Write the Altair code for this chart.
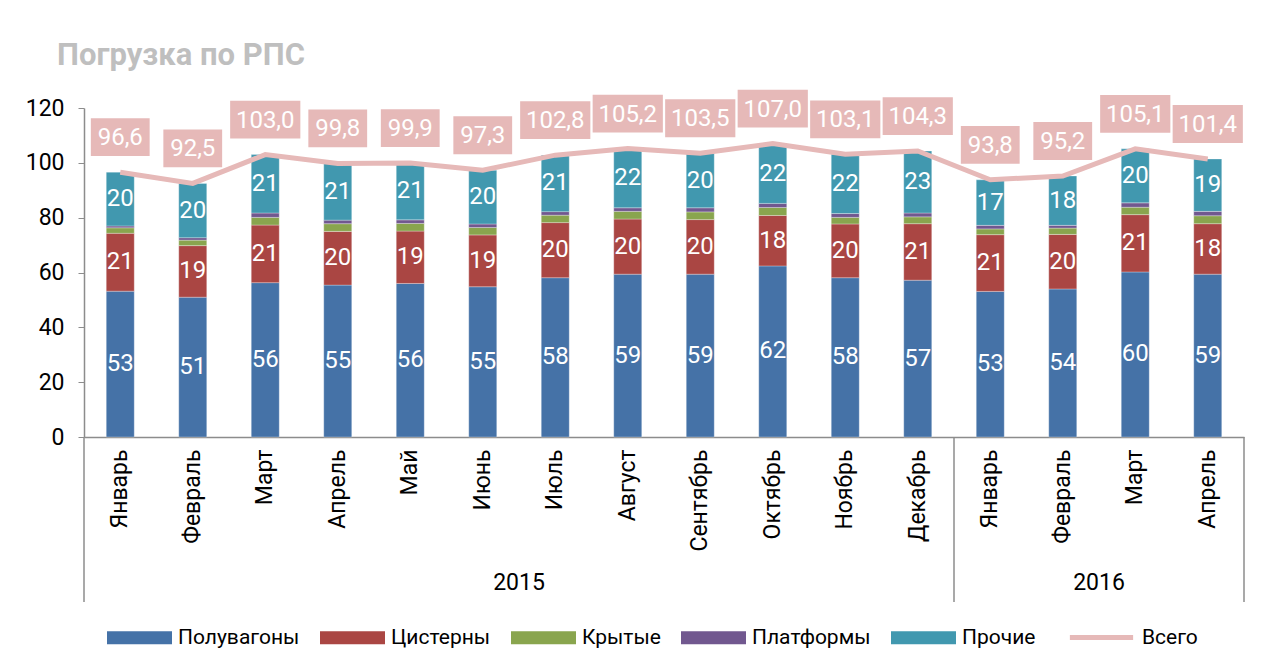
import altair as alt
import pandas as pd

# ---- data -----------------------------------------------------------
years = ["2015"] * 12 + ["2016"] * 4
months = ["Январь", "Февраль", "Март", "Апрель", "Май", "Июнь", "Июль",
          "Август", "Сентябрь", "Октябрь", "Ноябрь", "Декабрь",
          "Январь", "Февраль", "Март", "Апрель"]
poluvagony = [53.2, 51.0, 56.3, 55.4, 56.0, 54.8, 58.1, 59.4, 59.4, 62.4, 58.1, 57.2, 53.1, 54.0, 60.2, 59.4]
cisterny   = [21.1, 18.8, 21.0, 19.6, 19.1, 18.9, 20.1, 20.1, 19.9, 18.4, 19.6, 20.6, 20.7, 19.9, 20.9, 18.4]
krytye     = [2.0, 2.0, 2.8, 2.8, 2.8, 2.7, 2.7, 2.8, 2.8, 2.9, 2.4, 2.5, 2.1, 2.3, 2.7, 2.9]
platformy  = [0.7, 0.9, 1.6, 1.3, 1.3, 1.3, 1.3, 1.3, 1.5, 1.5, 1.4, 1.4, 1.3, 1.0, 1.6, 1.6]
prochie    = [19.6, 19.8, 21.3, 20.7, 20.7, 19.6, 20.6, 21.6, 19.9, 21.8, 21.6, 22.6, 16.6, 18.0, 19.7, 19.1]
vsego      = [96.6, 92.5, 103.0, 99.8, 99.9, 97.3, 102.8, 105.2, 103.5, 107.0, 103.1, 104.3, 93.8, 95.2, 105.1, 101.4]

series_names = ["Полувагоны", "Цистерны", "Крытые", "Платформы", "Прочие"]
series_colors = ["#4572A7", "#AA4643", "#89A54E", "#71588F", "#4198AF"]
total_name = "Всего"
labelled = ["Полувагоны", "Цистерны", "Прочие"]
y_ticks = [0, 20, 40, 60, 80, 100, 120]

# ---- tables -----------------------------------------------------------
keys = [f"{y}|{m}" for y, m in zip(years, months)]
rows = []
for i, k in enumerate(keys):
    for j, (name, arr) in enumerate(zip(series_names,
                                        [poluvagony, cisterny, krytye, platformy, prochie])):
        rows.append({"key": k, "series": name, "value": arr[i], "ord": j})
df = pd.DataFrame(rows)
tot = pd.DataFrame({"key": keys, "total": vsego, "name": [total_name] * len(keys)})
sep_left = pd.DataFrame({"key": [keys[0], keys[12]]})
sep_right = pd.DataFrame({"key": [keys[-1]]})
year_df = pd.DataFrame({"key": [keys[5], keys[13]], "year": ["2015", "2016"]})

FONT = "Roboto"
FS = 23
LFS = 21
W, H = 1160, 329
PINK = "#E6B9B8"
GREY = "#8C8C8C"

xscale = alt.Scale(domain=keys, paddingInner=0, paddingOuter=0)
yscale = alt.Scale(domain=[0, 120], nice=False)

x_axis = alt.Axis(title=None, labelAngle=-90, labelExpr="split(datum.value, '|')[1]",
                  labelFont=FONT, labelFontSize=FS, labelColor="#000000", labelPadding=12,
                  ticks=False, domainColor=GREY, domainWidth=1.5, labelBaseline="middle")
y_axis = alt.Axis(title=None, values=y_ticks, grid=False, labelFont=FONT, labelFontSize=FS,
                  labelColor="#000000", tickColor=GREY, tickSize=6, domainColor=GREY,
                  domainWidth=1.5, labelPadding=14)

LEG_Y = 497
bar_legend = alt.Legend(
    title=None, orient="none", legendX=23, legendY=LEG_Y, direction="horizontal",
    labelFont=FONT, labelFontSize=LFS, labelColor="#000000", columnPadding=20,
    labelOffset=6, symbolSize=4225, symbolStrokeWidth=0, symbolOpacity=1,
    symbolType="M-1,-0.2H1V0.2H-1Z",
)
line_legend = alt.Legend(
    title=None, orient="none", legendX=983, legendY=LEG_Y - 2, direction="horizontal",
    labelFont=FONT, labelFontSize=LFS, labelColor="#000000",
    labelOffset=6, symbolSize=4000, symbolStrokeWidth=5, symbolType="stroke",
)

base = alt.Chart(df)

bars = base.mark_bar(width=28, stroke="#FFFFFF", strokeWidth=0.3).encode(
    x=alt.X("key:N", scale=xscale, axis=x_axis, sort=keys),
    y=alt.Y("value:Q", stack="zero", scale=yscale, axis=y_axis),
    color=alt.Color("series:N", scale=alt.Scale(domain=series_names, range=series_colors),
                    legend=bar_legend),
    order=alt.Order("ord:Q"),
)

seg_labels = base.transform_stack(
    stack="value", groupby=["key"], as_=["v0", "v1"], sort=[alt.SortField("ord")]
).transform_calculate(
    mid="(datum.v0 + datum.v1) / 2"
).transform_filter(
    alt.FieldOneOfPredicate(field="series", oneOf=labelled)
).mark_text(color="#FFFFFF", font=FONT, fontSize=24, baseline="middle").encode(
    x=alt.X("key:N", scale=xscale, sort=keys),
    y=alt.Y("mid:Q", scale=yscale),
    text=alt.Text("value:Q", format=".0f"),
)

tb = alt.Chart(tot)
line = tb.mark_line(strokeWidth=5).encode(
    x=alt.X("key:N", scale=xscale, sort=keys),
    y=alt.Y("total:Q", scale=yscale),
    stroke=alt.Stroke("name:N", scale=alt.Scale(domain=[total_name], range=[PINK]),
                      legend=line_legend),
)
boxes = tb.mark_point(filled=True, opacity=1, color=PINK, size=3600, yOffset=-35).encode(
    x=alt.X("key:N", scale=xscale, sort=keys),
    y=alt.Y("total:Q", scale=yscale),
    shape=alt.condition(alt.datum.total >= 100,
                        alt.value("M-1.17,-0.63H1.17V0.63H-1.17Z"),
                        alt.value("M-0.98,-0.63H0.98V0.63H-0.98Z")),
)
box_text = tb.transform_calculate(
    lbl="replace(format(datum.total, '.1f'), '.', ',')"
).mark_text(color="#FFFFFF", font=FONT, fontSize=24, baseline="middle", dy=-34).encode(
    x=alt.X("key:N", scale=xscale, sort=keys),
    y=alt.Y("total:Q", scale=yscale),
    text="lbl:N",
)

rule_l = alt.Chart(sep_left).mark_rule(color=GREY, strokeWidth=1.5).encode(
    x=alt.X("key:N", scale=xscale, sort=keys, bandPosition=0),
    y=alt.value(H), y2=alt.value(H + 165),
)
rule_r = alt.Chart(sep_right).mark_rule(color=GREY, strokeWidth=1.5).encode(
    x=alt.X("key:N", scale=xscale, sort=keys, bandPosition=1),
    y=alt.value(H), y2=alt.value(H + 165),
)
year_text = alt.Chart(year_df).mark_text(font=FONT, fontSize=FS, color="#000000",
                                         baseline="middle").encode(
    x=alt.X("key:N", scale=xscale, sort=keys, bandPosition=1),
    y=alt.value(H + 146),
    text="year:N",
)

chart = alt.layer(bars, seg_labels, line, boxes, box_text, rule_l, rule_r, year_text).properties(
    width=W, height=H,
    autosize=alt.AutoSizeParams(type="none"),
    padding={"left": 76, "top": 100, "right": 19, "bottom": 226},
    title=alt.TitleParams("Погрузка по РПС", anchor="start", frame="group", dx=-27, offset=18,
                          font=FONT, fontSize=31, fontWeight="bold", color="#BFBFBF"),
    background="#FFFFFF",
).configure_view(stroke=None)

chart.save("out.html", embed_options={"renderer": "svg", "actions": False})
